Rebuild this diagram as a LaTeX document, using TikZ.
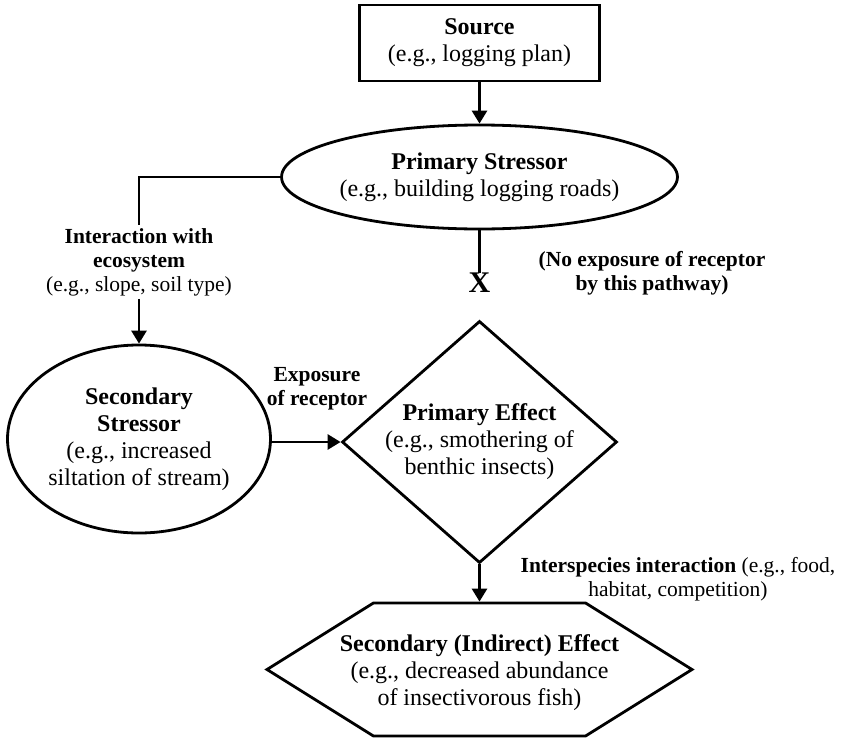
\documentclass[tikz,border=0pt]{standalone}
\usepackage{fontspec}
\setmainfont{Liberation Serif}
\usepackage{tikz}
\usetikzlibrary{arrows.meta,positioning,calc,shapes.geometric,shapes.symbols}

\begin{document}
\begin{tikzpicture}[
  x=1pt,y=-1pt,
  every node/.style={font=\fontsize{24}{27}\selectfont,align=center},
  box/.style={draw,line width=2.8pt,minimum width=240pt,minimum height=76pt,inner sep=0pt},
  oval/.style={draw,ellipse,line width=2.8pt,inner sep=0pt},
  dia/.style={draw,diamond,shape aspect=1.136,line width=2.8pt,inner sep=0pt,minimum width=275pt,minimum height=242pt},
  hexa/.style={draw,signal,signal to=east and west,signal pointer angle=64,line width=2.8pt,inner sep=0pt,minimum width=425pt,minimum height=133pt},
  lbl/.style={font=\fontsize{21.5}{24}\selectfont,inner sep=3pt},
  ln/.style={line width=2.8pt},
  arr/.style={-{Triangle[length=13pt,width=15pt]},line width=2.8pt}
]
\useasboundingbox (0,0) rectangle (844,739);
\node[box] (source) at (479.5,43) {\textbf{Source}\\(e.g., logging plan)};
\node[oval,minimum width=395pt,minimum height=104pt] (pstress) at (479.5,177) {\textbf{Primary Stressor}\\(e.g., building logging roads)};
\node[lbl] (inter) at (139,262) {\textbf{Interaction with}\\\textbf{ecosystem}\\(e.g., slope, soil type)};
\node[oval,minimum width=263pt,minimum height=188pt] (sstress) at (139,439) {\textbf{Secondary}\\\textbf{Stressor}\\(e.g., increased\\siltation of stream)};
\node[inner sep=0pt,font=\fontsize{30}{30}\selectfont\bfseries] (nox) at (479.5,283) {X};
\node[lbl,font=\fontsize{21.5}{24}\selectfont\bfseries] (noexpo) at (652,273) {(No exposure of receptor\\by this pathway)};
\node[dia] (peffect) at (479.5,442) {\textbf{Primary Effect}\\(e.g., smothering of\\benthic insects)};
\node[lbl,font=\fontsize{21.5}{24}\selectfont\bfseries] (expo) at (317,389) {Exposure\\of receptor};
\node[hexa] (seffect) at (479.5,669.5) {};
\node (seffecttxt) at ($(seffect.center)+(0,3)$) {\textbf{Secondary (Indirect) Effect}\\(e.g., decreased abundance\\of insectivorous fish)};
\node[lbl] (species) at (678,579) {\textbf{Interspecies interaction} (e.g., food,\\habitat, competition)};
\draw[arr] (source.south) -- (pstress.north);
\draw[ln] (pstress.west) -| (inter.north);
\draw[arr] (inter.south) -- (sstress.north);
\draw[ln] (pstress.south) -- (nox.north);
\draw[arr] (sstress.east |- peffect.west) -- (peffect.west);
\draw[arr] (peffect.south) -- (seffect.north);
\end{tikzpicture}
\end{document}
